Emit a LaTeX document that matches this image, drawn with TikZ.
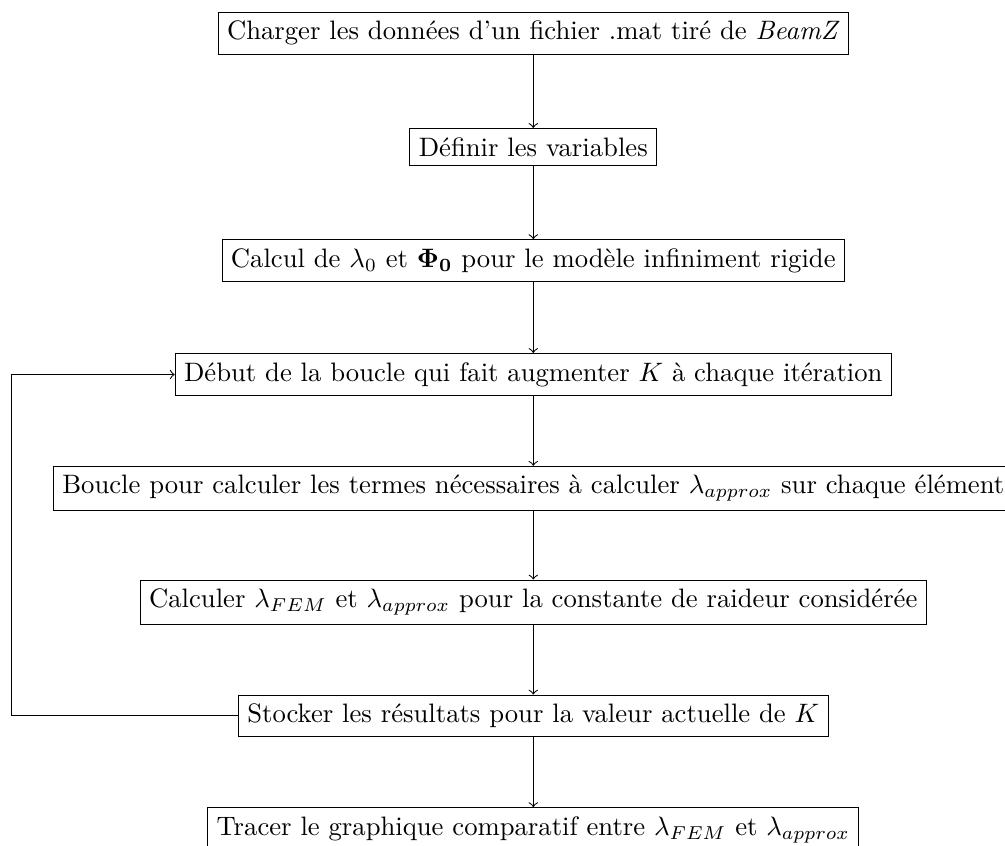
\documentclass[tikz,border=0pt]{standalone}
\usetikzlibrary{positioning}
\tikzset{>=to}
\tikzset{etape/.style={draw, rectangle}}

\begin{document}
\begin{tikzpicture}[node distance=1.5cm, on grid]
      \useasboundingbox (-200pt,12.43pt) rectangle (176.9pt,-304.8pt);
      \node[etape] (charger) at (0,0) {Charger les données d'un fichier .mat tiré de \emph{BeamZ}};
      \node[etape, below=of charger] (definir) {Définir les variables};
      \node[etape, below=of definir] (rigide) {Calcul de $\lambda_0$ et $\mathbf{\Phi_0}$ pour le modèle infiniment rigide};
      \node[etape, below=of rigide] (debut) {Début de la boucle qui fait augmenter $K$ à chaque itération};
      \node[etape, below=of debut] (boucle) {Boucle pour calculer les termes nécessaires à calculer $\lambda_{approx}$ sur chaque élément};
      \node[etape, below=of boucle] (calculer) {Calculer $\lambda_{FEM}$ et $\lambda_{approx}$ pour la constante de raideur considérée};
      \node[etape, below=of calculer] (stocker) {Stocker les résultats pour la valeur actuelle de $K$};
      \node[etape, below=of stocker] (tracer) {Tracer le graphique comparatif entre $\lambda_{FEM}$ et $\lambda_{approx}$};
      % les fleches
      \draw[->] (charger) -- (definir);
      \draw[->] (definir) -- (rigide);
      \draw[->] (rigide) -- (debut);
      \draw[->] (debut) -- (boucle);
      \draw[->] (boucle) -- (calculer);
      \draw[->] (calculer) -- (stocker);
      \draw[->] (stocker) -- (tracer);
      % retour de la boucle
      \coordinate (retour) at ([xshift=-15.5pt]boucle.west);
      \draw[->] (stocker.west) -| (retour) |- (debut.west);
\end{tikzpicture}
\end{document}
